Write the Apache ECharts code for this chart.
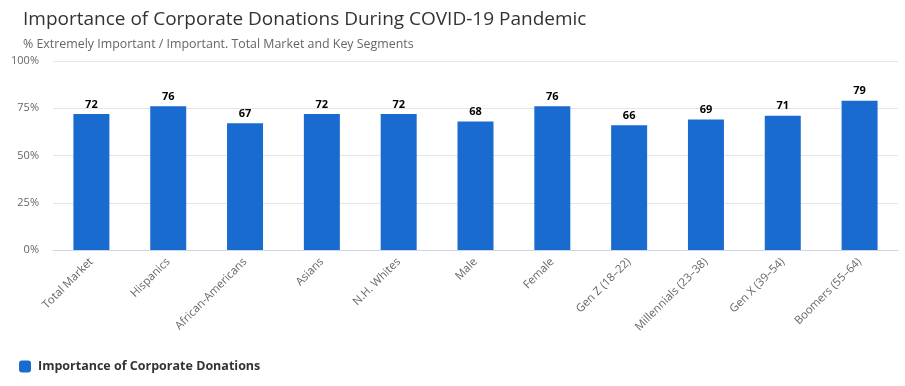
<!DOCTYPE html>
<html><head><meta charset="utf-8">
<script src="https://cdn.jsdelivr.net/npm/echarts@6/dist/echarts.min.js"></script>
<style>html,body{margin:0;padding:0;background:#fff}#c{width:905px;height:386px}</style>
</head><body><div id="c"></div>
<script>
const categories = ["Total Market","Hispanics","African-Americans","Asians","N.H. Whites","Male","Female","Gen Z (18–22)","Millennials (23–38)","Gen X (39–54)","Boomers (55–64)"];
const values = [72,76,67,72,72,68,76,66,69,71,79];
const yTicks = [0,25,50,75,100];
const seriesName = "Importance of Corporate Donations";
const FONT = "'Open Sans', sans-serif";
const chart = echarts.init(document.getElementById('c'));
chart.setOption({
  animation:false,
  textStyle:{fontFamily:FONT},
  title:{text:"Importance of Corporate Donations During COVID-19 Pandemic",
    subtext:"% Extremely Important / Important. Total Market and Key Segments",
    left:18, top:5, itemGap:9,
    textStyle:{fontFamily:FONT,fontSize:19,fontWeight:'normal',color:'#333'},
    subtextStyle:{fontFamily:FONT,fontSize:12.4,color:'#666'}},
  legend:{left:14, top:355, itemWidth:12, itemHeight:12, itemGap:10, icon:'roundRect',
    textStyle:{fontFamily:FONT,fontSize:12.5,fontWeight:'bold',color:'#333', padding:[0,0,0,2]}, data:[seriesName]},
  grid:{left:53, right:7, top:61, bottom:136, containLabel:false},
  xAxis:{type:'category', data:categories,
    axisLine:{lineStyle:{color:'#ccd6eb'}}, axisTick:{show:false},
    axisLabel:{rotate:45, fontSize:11.3, color:'#666', interval:0, fontFamily:FONT, margin:10}},
  yAxis:{type:'value', min:yTicks[0], max:yTicks[yTicks.length-1], interval:25,
    axisLabel:{formatter:'{value}%', fontSize:11, color:'#666', fontFamily:FONT, margin:14},
    splitLine:{lineStyle:{color:'#e6e6e6'}}, axisLine:{show:false}, axisTick:{show:false}},
  series:[{name:seriesName, type:'bar', data:values, barWidth:36,
    itemStyle:{color:'#1a6bcf'},
    label:{show:true, position:'top', distance:4, fontSize:11, fontWeight:'bold', color:'#000', fontFamily:FONT}}]
});
</script></body></html>
